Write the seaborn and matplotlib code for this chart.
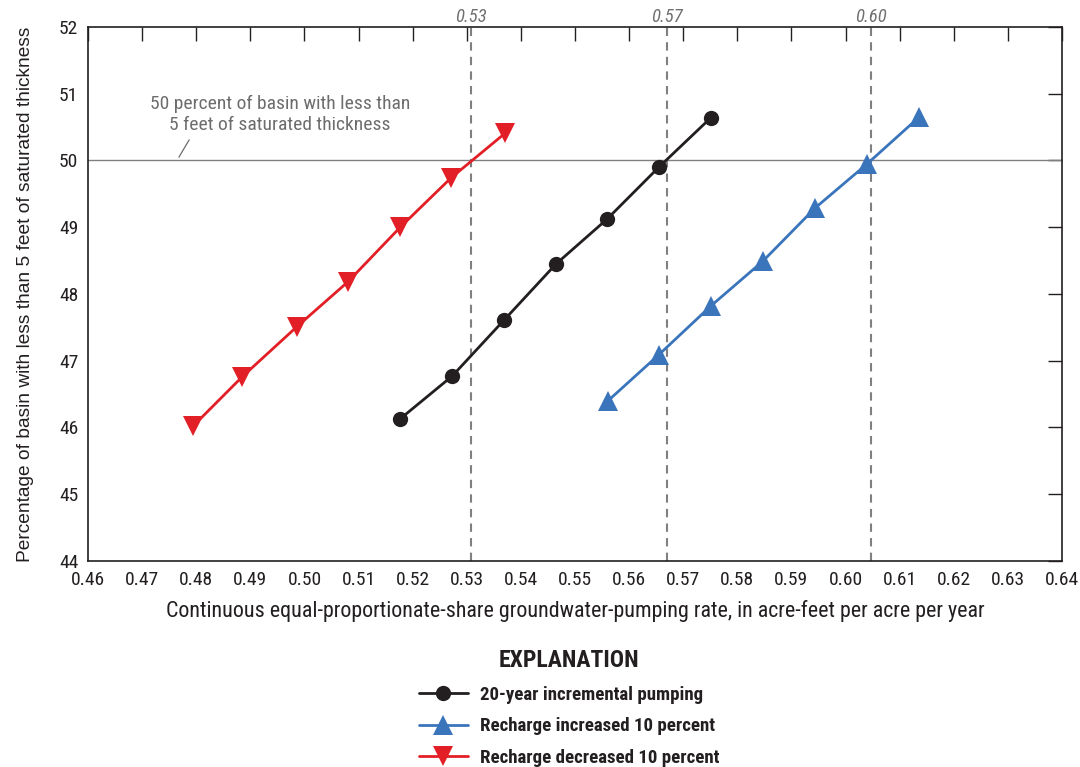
import matplotlib
matplotlib.use("Agg")
import matplotlib.pyplot as plt
import seaborn as sns
import pandas as pd
from matplotlib.lines import Line2D

# ---- data ----
series_names = ["20-year incremental pumping",
                "Recharge increased 10 percent",
                "Recharge decreased 10 percent"]
base_x = [0.5177, 0.5273, 0.5369, 0.5465, 0.5559, 0.5655, 0.5751]
base_y = [46.13, 46.77, 47.61, 48.45, 49.12, 49.90, 50.64]
inc_x = [0.5561, 0.5655, 0.5751, 0.5847, 0.5944, 0.6040, 0.6136]
inc_y = [46.40, 47.09, 47.82, 48.49, 49.29, 49.95, 50.65]
dec_x = [0.4794, 0.4885, 0.4986, 0.5080, 0.5177, 0.5271, 0.5371]
dec_y = [46.02, 46.76, 47.51, 48.18, 49.00, 49.74, 50.41]
threshold_pct = 50
crossing_rates = [0.5308, 0.5670, 0.6047]
crossing_labels = ["0.53", "0.57", "0.60"]
xticks = [0.46, 0.47, 0.48, 0.49, 0.50, 0.51, 0.52, 0.53, 0.54, 0.55,
          0.56, 0.57, 0.58, 0.59, 0.60, 0.61, 0.62, 0.63, 0.64]
yticks = [44, 45, 46, 47, 48, 49, 50, 51, 52]

colors = {series_names[0]: "#231f20",
          series_names[1]: "#3a74bb",
          series_names[2]: "#e21f26"}
markers = {series_names[0]: "o", series_names[1]: "^", series_names[2]: "v"}

df = pd.concat([
    pd.DataFrame({"rate": base_x, "pct": base_y, "scenario": series_names[0]}),
    pd.DataFrame({"rate": inc_x, "pct": inc_y, "scenario": series_names[1]}),
    pd.DataFrame({"rate": dec_x, "pct": dec_y, "scenario": series_names[2]}),
])

sns.set_theme(style="white")
plt.rcParams['font.family'] = ['Roboto Condensed', 'DejaVu Sans']

fig = plt.figure(figsize=(10.8, 7.67), dpi=100)
ax = fig.add_axes([0.0815, 0.2686, 0.9018, 0.6962])

# reference lines
ax.axhline(threshold_pct, color="#808080", lw=1.0, zorder=1)
for r, lab in zip(crossing_rates, crossing_labels):
    ax.axvline(r, color="#808080", lw=1.5, ls=(0, (4, 3)), zorder=1)
    ax.text(r, 52.15, lab, ha="center", va="center", fontsize=13.5,
            style="italic", color="#707070")

for name in series_names:
    sub = df[df.scenario == name]
    ms = 11 if markers[name] == "o" else 14
    sns.lineplot(data=sub, x="rate", y="pct", ax=ax, color=colors[name],
                 marker=markers[name], markersize=ms, markeredgewidth=0,
                 lw=2, sort=False, zorder=3, legend=False)

ax.set_xlim(0.46, 0.64)
ax.set_ylim(44, 52)
ax.set_xticks(xticks)
ax.set_xticklabels([f"{t:.2f}" for t in xticks])
ax.set_yticks(yticks)
ax.tick_params(direction="in", length=10, width=1, top=True, right=True,
               labelsize=14, colors="#231f20", pad=7)
for s in ax.spines.values():
    s.set_color("#231f20")
    s.set_linewidth(1.2)

ax.set_xlabel("Continuous equal-proportionate-share groundwater-pumping rate, in acre-feet per acre per year",
              fontsize=15.8, color="#231f20", labelpad=8)
ax.set_ylabel("Percentage of basin with less than 5 feet of saturated thickness",
              fontsize=13.8, color="#231f20", labelpad=18, family="Liberation Sans")

# annotation
ax.text(0.4955, 50.69, "50 percent of basin with less than\n5 feet of saturated thickness",
        ha="center", va="center", fontsize=14, color="#6d6d6d", linespacing=1.2)
ax.plot([0.4768, 0.4787], [50.05, 50.31], color="#6d6d6d", lw=0.9)

# legend
handles = [Line2D([0], [0], color=colors[n], lw=2, marker=markers[n],
                  markersize=(11 if markers[n] == "o" else 14), markeredgewidth=0)
           for n in series_names]
leg = fig.legend(handles, series_names, loc="upper left",
                 bbox_to_anchor=(0.372, 0.176), frameon=False,
                 title="EXPLANATION", handlelength=2.6, handletextpad=0.65,
                 labelspacing=0.72, prop={"weight": "bold", "size": 13.6})
leg.get_title().set_fontweight("bold")
leg.get_title().set_fontsize(17)
leg.get_title().set_color("#231f20")
for t in leg.get_texts():
    t.set_color("#231f20")

fig.savefig("out.png", dpi=100)
